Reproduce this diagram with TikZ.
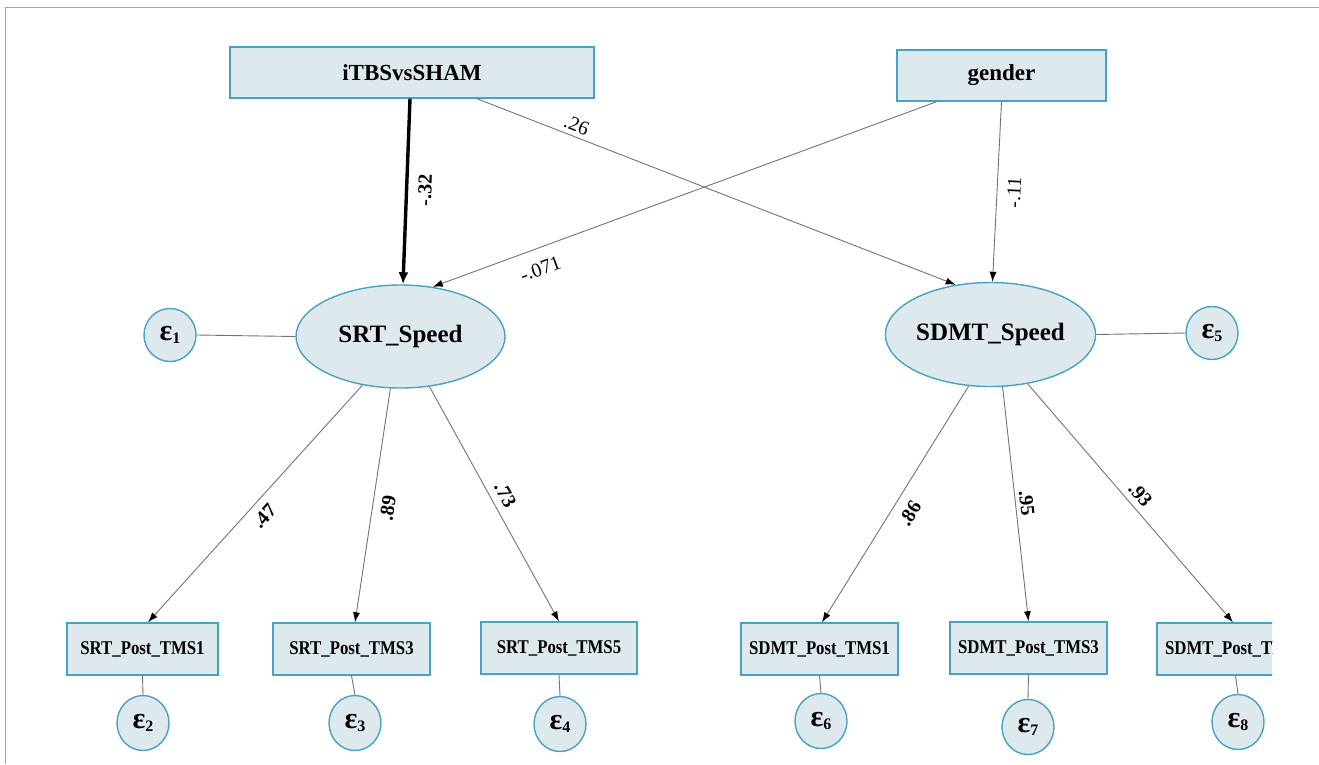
\documentclass[tikz,border=0pt]{standalone}
\usepackage{fontspec}
\setmainfont{Liberation Serif}
\usepackage{graphicx}
\usetikzlibrary{shapes.geometric,arrows.meta}
\definecolor{nodefill}{RGB}{222,233,237}
\definecolor{nodeline}{RGB}{72,162,196}
\definecolor{edgegray}{RGB}{115,115,115}
\definecolor{framegray}{RGB}{165,165,165}
\newcommand{\errlab}[1]{{\fontsize{30}{30}\selectfont\bfseries ε\raisebox{-3pt}{\fontsize{16}{16}\selectfont #1}}}
\newcommand{\indlab}[1]{\scalebox{0.86}[1]{#1}}
\begin{document}
\begin{tikzpicture}[x=1pt,y=-1pt,
  obs/.style={rectangle,draw=nodeline,fill=nodefill,line width=1.4pt,inner sep=0pt},
  exo/.style={obs,minimum height=51pt,font=\fontsize{23}{23}\selectfont\bfseries},
  ind/.style={obs,minimum width=156pt,minimum height=52pt,font=\fontsize{19.5}{19.5}\selectfont\bfseries},
  lat/.style={ellipse,draw=nodeline,fill=nodefill,line width=1.4pt,minimum width=209pt,minimum height=103pt,inner sep=0pt,font=\fontsize{25}{25}\selectfont\bfseries},
  err/.style={ellipse,draw=nodeline,fill=nodefill,line width=1.4pt,minimum width=52pt,minimum height=53pt,inner sep=0pt},
  errlow/.style={err,minimum height=55pt},
  arr/.style={draw=edgegray,line width=0.9pt,-{Latex[length=10pt,width=7pt,color=black]}},
  thickarr/.style={draw=black,line width=3.4pt,-{Latex[length=12pt,width=10pt]}},
  res/.style={draw=edgegray,line width=0.9pt},
  lab/.style={sloped,inner sep=2pt,font=\fontsize{20}{20}\selectfont},
  labb/.style={sloped,inner sep=2pt,font=\fontsize{20}{20}\selectfont\bfseries}
]
\useasboundingbox (0,0) rectangle (1319,764);
\draw[framegray,line width=1pt] (1319,7) -- (5,7) -- (5,764);
\begin{scope}
\clip (0,0) rectangle (1272,764);
% exogenous
\node[exo,minimum width=364pt] (iTBS) at (412,72.5) {iTBSvsSHAM};
\node[exo,minimum width=209pt] (gender) at (1001.5,75.5) {gender};
% latent
\node[lat] (SRT) at (400.5,336.5) {SRT\_Speed};
\node[lat,minimum height=104pt] (SDMT) at (990.5,334.5) {SDMT\_Speed};
% errors of latent
\node[err] (E1) at (170,335) {\errlab{1}};
\node[err] (E5) at (1212,333) {\errlab{5}};
% indicators
\node[ind,minimum width=151pt] (SRT1) at (142.5,649) {\indlab{SRT\_Post\_TMS1}};
\node[ind,minimum width=157pt] (SRT3) at (351.5,649) {\indlab{SRT\_Post\_TMS3}};
\node[ind] (SRT5) at (559,648) {\indlab{SRT\_Post\_TMS5}};
\node[ind,minimum width=157pt] (SDMT1) at (819.5,649) {\indlab{SDMT\_Post\_TMS1}};
\node[ind,minimum width=157pt] (SDMT3) at (1028.5,648) {\indlab{SDMT\_Post\_TMS3}};
\node[ind,minimum width=157pt] (SDMT5) at (1235.5,649) {\indlab{SDMT\_Post\_TMS5}};
% indicator errors
\node[errlow] (E2) at (143,723) {\errlab{2}};
\node[errlow] (E3) at (355,723) {\errlab{3}};
\node[errlow] (E4) at (560,724) {\errlab{4}};
\node[errlow] (E6) at (821,721) {\errlab{6}};
\node[errlow] (E7) at (1028,727) {\errlab{7}};
\node[errlow] (E8) at (1238,722) {\errlab{8}};
% structural paths
\draw[thickarr] ([xshift=-2pt]iTBS.south) -- node[labb,pos=0.49,below=8pt]{-.32} ([xshift=2.5pt]SRT.north);
\draw[arr] (gender.202.5) -- node[lab,pos=0.8,below=11pt]{-.071} (SRT.57.5);
\draw[arr] (iTBS.-22) -- node[lab,pos=0.2,above=2pt]{.26} (SDMT.125.6);
\draw[arr] (gender.south) -- node[lab,pos=0.5,below=8pt]{-.11} ([xshift=2pt]SDMT.north);
% residual links
\draw[res] (E1.east) -- (SRT.west);
\draw[res] (SDMT.east) -- (E5.west);
% measurement paths
\draw[arr] (SRT.-128) -- node[labb,pos=0.51,below=6pt]{.47} ([xshift=5.5pt]SRT1.north);
\draw[arr] (SRT.-101) -- node[labb,pos=0.5,below=6pt]{.89} ([xshift=3.5pt]SRT3.north);
\draw[arr] (SRT.-60) -- node[labb,pos=0.49,above=5pt]{.73} (SRT5.north);
\draw[arr] (SDMT.-113.7) -- node[labb,pos=0.5,below=8pt]{.86} ([xshift=2.5pt]SDMT1.north);
\draw[arr] (SDMT.-77) -- node[labb,pos=0.5,above=2pt]{.95} (SDMT3.north);
\draw[arr] (SDMT.-53.4) -- node[labb,pos=0.5,above=4pt]{.93} ([xshift=-2.5pt]SDMT5.north);
% indicator residuals
\draw[res] (SRT1.south) -- (E2.north);
\draw[res] (SRT3.south) -- (E3.north);
\draw[res] (SRT5.south) -- (E4.north);
\draw[res] (SDMT1.south) -- (E6.north);
\draw[res] (SDMT3.south) -- (E7.north);
\draw[res] (SDMT5.south) -- (E8.north);
\end{scope}
\end{tikzpicture}
\end{document}
